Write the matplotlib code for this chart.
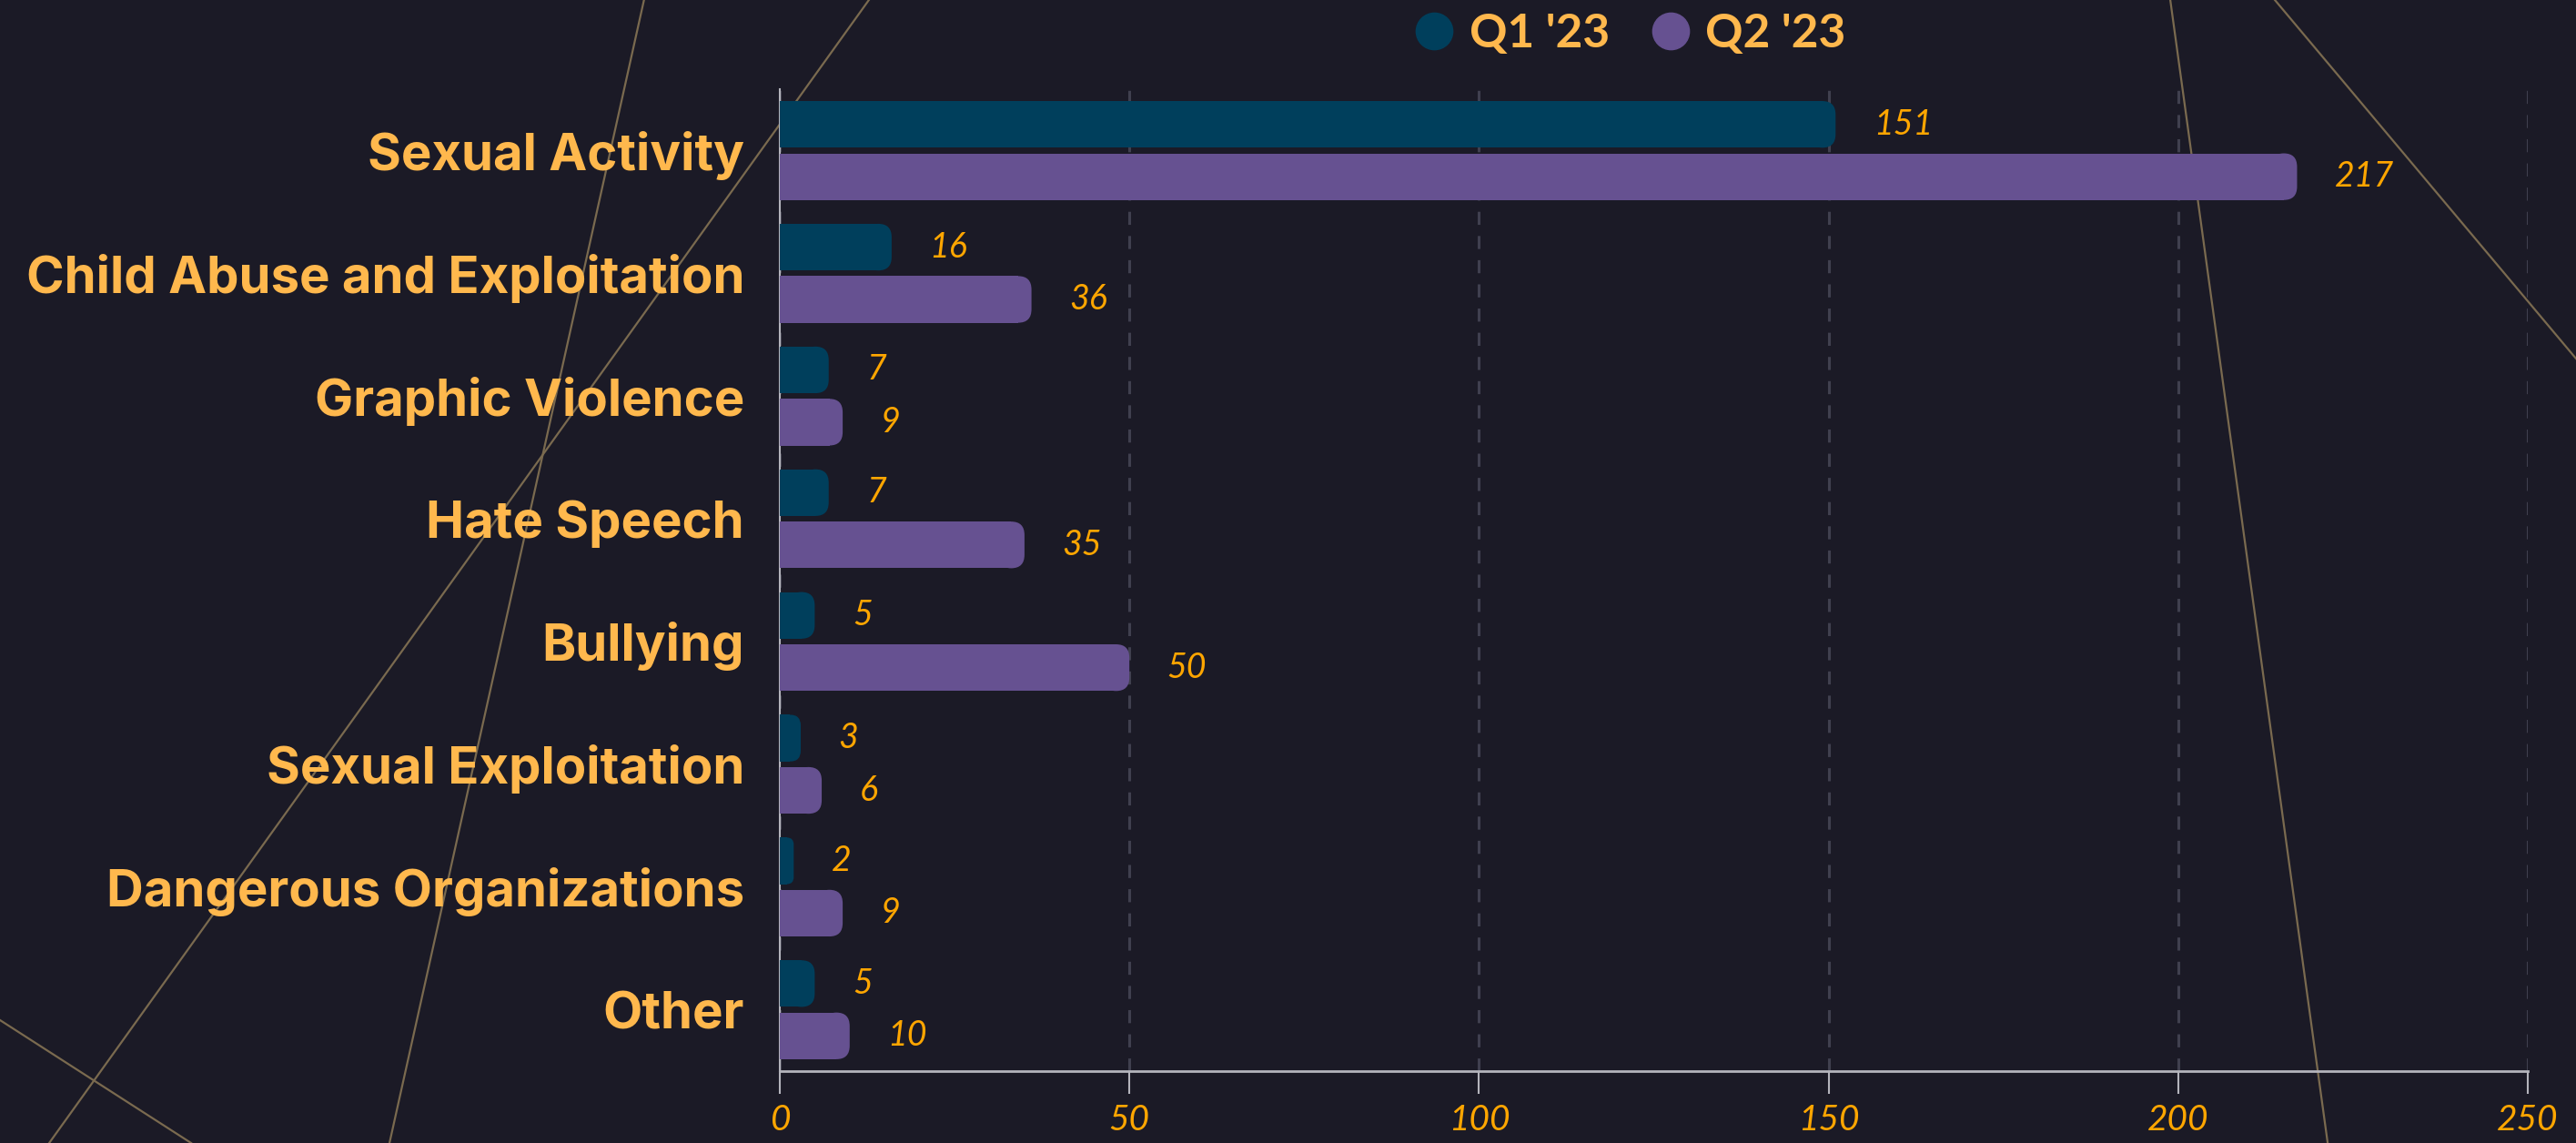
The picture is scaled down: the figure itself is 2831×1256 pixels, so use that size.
import numpy as np
import matplotlib
matplotlib.use('Agg')
import matplotlib.pyplot as plt
from matplotlib.lines import Line2D
from matplotlib.patches import FancyBboxPatch

categories = ['Sexual Activity', 'Child Abuse and Exploitation', 'Graphic Violence',
              'Hate Speech', 'Bullying', 'Sexual Exploitation',
              'Dangerous Organizations', 'Other']
q1_values = [151, 16, 7, 7, 5, 3, 2, 5]
q2_values = [217, 36, 9, 35, 50, 6, 9, 10]
series_names = ["Q1 '23", "Q2 '23"]
x_ticks = [0, 50, 100, 150, 200, 250]

bg = '#1b1a26'
c_q1 = '#003f5c'
c_q2 = '#665191'
label_col = '#ffb84d'
value_col = '#ffa600'
axis_col = '#b4b4bc'
deco_col = '#7a6a4f'

plt.rcParams['font.family'] = ['Lato', 'DejaVu Sans']

fig = plt.figure(figsize=(28.31, 12.56), dpi=100, facecolor=bg)
ax = fig.add_axes([0.3027, 0.0629, 0.9813 - 0.3027, 0.922 - 0.0629])
ax.set_facecolor('none')

# decorative background lines (figure coords)
for (x0, y0), (x1, y1) in [((0.8425, 1.0), (0.9036, 0.0)),
                           ((0.8831, 1.0), (1.0, 0.6863)),
                           ((0.2500, 1.0), (0.1512, 0.0)),
                           ((0.3373, 1.0), (0.0191, 0.0)),
                           ((0.0, 0.1075), (0.0742, 0.0))]:
    fig.add_artist(Line2D([x0, x1], [y0, y1], transform=fig.transFigure,
                          color=deco_col, lw=1.6, zorder=0))

pos = np.arange(len(categories))
h = 0.38
off = 0.213
bars1 = ax.barh(pos - off, q1_values, height=h, color=c_q1, zorder=3)
bars2 = ax.barh(pos + off, q2_values, height=h, color=c_q2, zorder=3)

ax.set_xlim(0, 250)
ax.set_ylim(7.5, -0.5)

# round the right end of each bar
r = 1.9
asp = 0.11 / r
for bars in (bars1, bars2):
    for b in bars:
        x0, y0 = b.get_x(), b.get_y()
        w, hh = b.get_width(), b.get_height()
        re = min(r, w / 2)
        b.set_width(w - re)
        cap = FancyBboxPatch((x0 + w - 2 * re, y0), 2 * re, hh,
                             boxstyle='round,pad=0,rounding_size=%f' % re,
                             mutation_aspect=asp, facecolor=b.get_facecolor(),
                             edgecolor='none', zorder=3)
        ax.add_patch(cap)

for bars, vals in ((bars1, q1_values), (bars2, q2_values)):
    for b, v in zip(bars, vals):
        ax.annotate(str(v), (v, b.get_y() + b.get_height() / 2),
                    xytext=(30, 0), textcoords='offset points',
                    ha='left', va='center', fontsize=27, style='italic',
                    color=value_col, zorder=4)

ax.set_yticks(pos, categories)
ax.tick_params(axis='y', length=0, pad=28)
for t in ax.get_yticklabels():
    t.set_family(['Inter', 'DejaVu Sans'])
    t.set_fontsize(40.5)
    t.set_fontweight('bold')
    t.set_color(label_col)

ax.set_xticks(x_ticks)
ax.tick_params(axis='x', length=18, width=1.5, color=axis_col, pad=8)
for t in ax.get_xticklabels():
    t.set_fontsize(28)
    t.set_style('italic')
    t.set_color(value_col)

ax.grid(axis='x', color='#40404f', lw=2.2, linestyle=(0, (4.7, 4)), zorder=1)
ax.grid(axis='y', visible=False)
ax.set_axisbelow(True)
for s in ('top', 'right'):
    ax.spines[s].set_visible(False)
ax.spines['left'].set_color(axis_col)
ax.spines['left'].set_linewidth(1.5)
ax.spines['bottom'].set_color(axis_col)
ax.spines['bottom'].set_linewidth(2)

handles = [Line2D([], [], marker='o', ls='', markersize=29, color=c_q1),
           Line2D([], [], marker='o', ls='', markersize=29, color=c_q2)]
leg = ax.legend(handles, series_names, loc='center', bbox_to_anchor=(0.633, 0.970),
                bbox_transform=fig.transFigure, ncol=2, frameon=False,
                prop={'size': 37, 'weight': 'bold'}, labelcolor=label_col,
                handlelength=0.8, handletextpad=0.35, columnspacing=0.9)

fig.savefig('out.png', dpi=100, facecolor=bg)
